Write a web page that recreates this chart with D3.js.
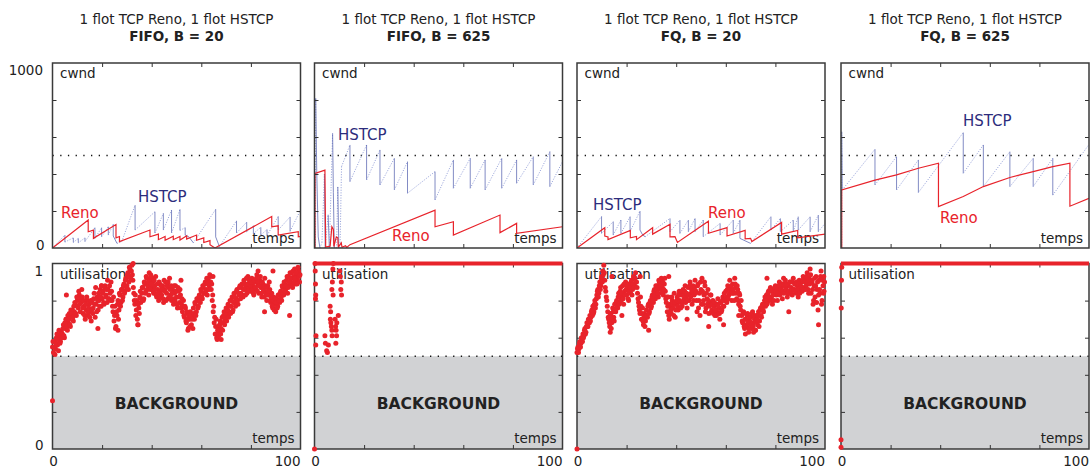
<!DOCTYPE html>
<html>
<head>
<meta charset="utf-8">
<script src="https://cdn.jsdelivr.net/npm/d3@7"></script>
<style>
  body { margin: 0; background: #fff; }
  svg { display: block; font-family: "DejaVu Sans", sans-serif; }
</style>
</head>
<body>
<svg id="chart" width="1090" height="469"></svg>
<script>
// ---------------- data ----------------
const titleLine = "1 flot TCP Reno, 1 flot HSTCP";
const scenarios = ["FIFO, B = 20", "FIFO, B = 625", "FQ, B = 20", "FQ, B = 625"];

const timeDomain = [0, 100];
const cwndDomain = [0, 1000];
const utilDomain = [0, 1];
const timeTicks = [20, 40, 60, 80];
const cwndTicks = [200, 400, 600, 800];
const utilTicks = [0.2, 0.4, 0.6, 0.8];
const cwndRef = 500;
const utilRef = 0.5;
const utilStep = 0.4; // sampling period of the utilisation series

// congestion windows, [time, cwnd] vertices
const renoFifo20 = [[0,0],[14.4,151],[14.4,88],[16.5,97],[16.5,52],[25.6,127],[25.6,55],[27,62],[27,35],[39.3,97],[39.3,61],[42.7,75],[42.7,45],[45.4,62],[45.4,42],[48.7,64],[48.7,45],[51.4,62],[51.4,43],[54.1,66],[54.1,48],[58.1,70],[58.1,42],[61,55],[61,30],[63.5,40],[63.5,18],[65.5,0],[88.4,170],[88.4,115],[91,120],[91,70],[99.1,88],[99.1,60],[100,62]];
const hstcpFifo20 = [[0,0],[5,70],[5,32],[8.4,55],[8.4,30],[10.4,52],[10.4,28],[13.1,55],[13.1,35],[17.1,110],[17.1,52],[19.8,110],[19.8,61],[22.5,115],[22.5,70],[24.5,128],[24.5,65],[26,25],[27.9,34],[33.3,232],[33.3,97],[41.3,196],[41.3,81],[44.7,187],[44.7,97],[48,205],[48,81],[51.4,209],[51.4,95],[53.5,110],[53.5,70],[55,60],[56.8,28],[65.8,209],[65.8,60],[67.3,8],[74.2,147],[74.2,81],[78.3,140],[78.3,88],[81,120],[81,78],[84,112],[84,70],[86.5,100],[86.5,68],[91,170],[91,97],[95.8,168],[95.8,90],[100,205]];

const renoFifo625 = [[0,0],[0.2,0],[0.2,403],[4.2,421],[4.5,5],[6.3,10],[7,115],[7.6,100],[7.8,8],[8.8,60],[9.4,55],[9.6,5],[10.8,28],[11.1,4],[12.5,12],[13,3],[14.3,18],[48.6,205],[48.6,115],[56,142],[56,70],[74.8,178],[74.8,83],[81.5,133],[81.5,79],[100,115]];
const hstcpFifo625 = [[0,0],[0.4,0],[0.5,809],[0.9,420],[1.5,60],[2.2,0],[3,30],[4,400],[4.3,0],[5.5,180],[6,0],[7.3,620],[7.6,300],[8,0],[8.9,0],[9.4,330],[9.8,0],[10.3,0],[10.9,440],[14.3,557],[14.3,359],[21,557],[21,368],[26.4,530],[26.4,341],[32.2,485],[32.2,314],[37.5,467],[37.5,296],[48.6,413],[48.6,260],[56,476],[56,323],[62.8,485],[62.8,323],[68.8,476],[68.8,314],[75.5,485],[75.5,323],[81.5,476],[81.5,350],[88.2,494],[88.2,341],[94.9,521],[94.9,332],[100,467]];

const renoFq20 = [[0,0],[11.2,110],[11.2,65],[12.5,60],[12.5,45],[21.5,95],[21.5,55],[24,62],[24,45],[30.5,110],[30.5,75],[37.5,128],[37.5,60],[39.5,62],[40.5,30],[53,145],[53,80],[60.5,110],[60.5,65],[67.8,95],[67.8,50],[70,52],[70.5,35],[82.5,138],[82.5,75],[89,95],[89,55],[100,75]];
const hstcpFq20 = [[0,0],[9.9,170],[9.9,79],[14.6,142],[14.6,70],[17.7,151],[17.7,79],[21.4,169],[21.4,88],[25.4,200],[25.4,97],[26.5,70],[27.5,61],[37.5,160],[37.5,88],[41.5,151],[41.5,79],[44.9,151],[44.9,88],[47.6,160],[47.6,88],[50.9,151],[50.9,61],[57.7,133],[57.7,70],[63,151],[63,79],[65.7,151],[65.7,52],[70,25],[78.2,170],[78.2,97],[82,160],[82,88],[87.2,151],[87.2,88],[89.2,169],[89.2,97],[94,169],[94,88],[97.3,178],[97.3,88],[100,133]];

const renoFq625 = [[0,0],[0.3,0],[0.3,314],[13.7,367],[22.4,395],[31.2,431],[39.3,458],[39.3,224],[49.3,278],[57.4,332],[68.1,381],[77.5,413],[85.4,440],[92.3,458],[92.3,226],[100,269]];
const hstcpFq625 = [[0,0],[0.3,0],[0.3,629],[0.5,314],[13.7,534],[13.7,341],[22.4,494],[22.4,314],[31.2,476],[31.2,300],[49.3,624],[49.3,404],[57.4,557],[57.4,332],[68.1,521],[68.1,332],[77.5,485],[77.5,332],[85.4,485],[85.4,286],[100,560]];

// link utilisation, one sample every utilStep (series A at k*step, series B half a step later)
const utilFifo20A = [
  0.55,0.52,0.58,0.54,0.6,0.56,0.53,0.61,0.58,0.63,
  0.62,0.67,0.6,0.65,0.7,0.64,0.68,0.73,0.66,0.71,
  0.75,0.69,0.74,0.78,0.72,0.8,0.76,0.83,0.74,0.79,
  0.82,0.73,0.77,0.7,0.75,0.8,0.72,0.78,0.74,0.69,
  0.79,0.76,0.84,0.71,0.78,0.82,0.75,0.8,0.86,0.77,
  0.81,0.85,0.78,0.88,0.83,0.79,0.86,0.81,0.84,0.9,
  0.8,0.74,0.69,0.77,0.66,0.72,0.8,0.75,0.83,0.79,
  0.86,0.82,0.89,0.85,0.92,0.88,0.95,0.9,0.97,0.93,
  0.99,0.91,0.84,0.78,0.72,0.8,0.67,0.76,0.82,0.79,
  0.84,0.87,0.81,0.89,0.85,0.92,0.88,0.83,0.91,0.94,
  0.87,0.9,0.84,0.88,0.93,0.82,0.86,0.8,0.89,0.85,
  0.83,0.88,0.79,0.86,0.9,0.84,0.81,0.87,0.92,0.83,
  0.8,0.86,0.78,0.84,0.88,0.82,0.76,0.85,0.79,0.83,
  0.78,0.74,0.8,0.71,0.76,0.68,0.73,0.65,0.7,0.74,
  0.67,0.72,0.76,0.7,0.78,0.74,0.8,0.77,0.83,0.79,
  0.85,0.81,0.87,0.84,0.9,0.86,0.83,0.91,0.88,0.93,
  0.86,0.8,0.74,0.68,0.62,0.7,0.59,0.66,0.63,0.69,
  0.65,0.71,0.68,0.74,0.7,0.76,0.72,0.78,0.74,0.8,
  0.77,0.82,0.75,0.84,0.79,0.81,0.86,0.78,0.83,0.88,
  0.84,0.89,0.82,0.91,0.86,0.88,0.84,0.93,0.87,0.9,
  0.85,0.92,0.88,0.83,0.9,0.86,0.94,0.89,0.84,0.91,
  0.87,0.82,0.89,0.85,0.92,0.84,0.8,0.88,0.83,0.86,
  0.79,0.84,0.76,0.82,0.78,0.74,0.81,0.77,0.83,0.79,
  0.85,0.8,0.87,0.83,0.89,0.86,0.91,0.84,0.93,0.88,
  0.9,0.95,0.87,0.93,0.97,0.89,0.94,0.91,0.96,0.9
];
const utilFifo20B = [
  0.58,0.55,0.51,0.57,0.62,0.59,0.64,0.57,0.62,0.6,
  0.65,0.61,0.68,0.7,0.66,0.72,0.7,0.67,0.75,0.73,
  0.71,0.77,0.79,0.73,0.82,0.77,0.85,0.78,0.81,0.86,
  0.76,0.8,0.72,0.78,0.82,0.74,0.76,0.71,0.8,0.75,
  0.73,0.81,0.78,0.87,0.74,0.8,0.84,0.77,0.82,0.88,
  0.84,0.79,0.87,0.82,0.86,0.91,0.81,0.88,0.8,0.85,
  0.77,0.82,0.72,0.65,0.74,0.78,0.7,0.84,0.77,0.86,
  0.8,0.88,0.84,0.91,0.87,0.94,0.86,0.98,0.92,0.96,
  0.94,0.87,0.8,0.83,0.75,0.7,0.78,0.73,0.85,0.81,
  0.87,0.8,0.9,0.84,0.93,0.86,0.9,0.95,0.86,0.89,
  0.92,0.85,0.91,0.86,0.83,0.89,0.84,0.9,0.82,0.88,
  0.86,0.81,0.91,0.85,0.8,0.88,0.9,0.82,0.86,0.88,
  0.84,0.81,0.88,0.8,0.85,0.78,0.87,0.82,0.86,0.76,
  0.81,0.77,0.72,0.77,0.69,0.74,0.7,0.72,0.66,0.71,
  0.7,0.65,0.73,0.79,0.72,0.81,0.76,0.82,0.8,0.86,
  0.82,0.88,0.84,0.89,0.85,0.92,0.89,0.86,0.94,0.9,
  0.89,0.83,0.77,0.71,0.66,0.6,0.64,0.61,0.67,0.62,
  0.68,0.64,0.72,0.67,0.73,0.69,0.75,0.71,0.77,0.73,
  0.8,0.74,0.79,0.82,0.77,0.85,0.8,0.84,0.87,0.81,
  0.87,0.83,0.86,0.89,0.83,0.92,0.89,0.85,0.91,0.88,
  0.9,0.86,0.84,0.91,0.87,0.92,0.85,0.9,0.88,0.93,
  0.84,0.9,0.86,0.82,0.88,0.87,0.83,0.85,0.9,0.8,
  0.82,0.77,0.8,0.75,0.81,0.79,0.76,0.83,0.8,0.84,
  0.82,0.88,0.84,0.9,0.85,0.88,0.93,0.87,0.9,0.95,
  0.92,0.88,0.96,0.9,0.92,0.95,0.89,0.98,0.93,0.94
];
const utilFq20A = [
  0.52,0.55,0.54,0.58,0.57,0.6,0.62,0.61,0.65,0.63,
  0.68,0.66,0.7,0.72,0.71,0.75,0.77,0.74,0.8,0.78,
  0.83,0.86,0.84,0.9,0.88,0.93,0.96,0.99,0.91,0.85,
  0.8,0.74,0.7,0.66,0.73,0.68,0.76,0.71,0.78,0.74,
  0.8,0.76,0.84,0.79,0.87,0.82,0.88,0.78,0.85,0.9,
  0.83,0.87,0.8,0.89,0.84,0.91,0.86,0.93,0.88,0.95,
  0.9,0.84,0.79,0.75,0.82,0.7,0.76,0.67,0.73,0.69,
  0.75,0.71,0.78,0.74,0.8,0.77,0.83,0.79,0.86,0.81,
  0.84,0.88,0.82,0.9,0.86,0.92,0.87,0.83,0.89,0.85,
  0.79,0.74,0.82,0.7,0.77,0.73,0.8,0.76,0.84,0.71,
  0.78,0.82,0.75,0.85,0.79,0.83,0.77,0.86,0.81,0.88,
  0.82,0.76,0.87,0.8,0.9,0.84,0.78,0.88,0.83,0.91,
  0.85,0.74,0.89,0.8,0.72,0.86,0.92,0.78,0.83,0.88,
  0.76,0.81,0.86,0.73,0.79,0.83,0.75,0.8,0.77,0.72,
  0.78,0.74,0.81,0.76,0.7,0.79,0.75,0.82,0.77,0.8,
  0.85,0.79,0.88,0.83,0.91,0.86,0.8,0.89,0.84,0.92,
  0.87,0.81,0.86,0.78,0.83,0.75,0.72,0.68,0.74,0.65,
  0.7,0.66,0.73,0.63,0.69,0.71,0.65,0.74,0.68,0.7,
  0.64,0.72,0.67,0.74,0.69,0.76,0.71,0.78,0.74,0.8,
  0.77,0.83,0.79,0.85,0.81,0.87,0.82,0.78,0.86,0.84,
  0.88,0.83,0.8,0.86,0.9,0.84,0.87,0.81,0.89,0.85,
  0.91,0.86,0.82,0.88,0.84,0.9,0.87,0.83,0.92,0.86,
  0.89,0.84,0.88,0.82,0.91,0.86,0.9,0.85,0.93,0.87,
  0.91,0.88,0.95,0.86,0.92,0.97,0.84,0.9,0.78,0.88,
  0.82,0.93,0.86,0.75,0.91,0.84,0.96,0.8,0.88,0.85
];
const utilFq20B = [
  0.54,0.52,0.57,0.55,0.6,0.58,0.6,0.64,0.62,0.66,
  0.66,0.7,0.68,0.69,0.74,0.72,0.73,0.78,0.76,0.81,
  0.85,0.82,0.88,0.86,0.92,0.9,0.94,0.95,0.87,0.82,
  0.77,0.71,0.68,0.72,0.65,0.7,0.74,0.69,0.75,0.79,
  0.77,0.82,0.78,0.85,0.8,0.84,0.81,0.89,0.83,0.86,
  0.88,0.81,0.85,0.87,0.9,0.83,0.89,0.87,0.92,0.9,
  0.87,0.81,0.77,0.73,0.77,0.73,0.69,0.71,0.66,0.72,
  0.72,0.77,0.73,0.79,0.76,0.82,0.8,0.85,0.83,0.88,
  0.86,0.84,0.91,0.87,0.88,0.84,0.9,0.86,0.92,0.81,
  0.82,0.77,0.72,0.78,0.75,0.82,0.78,0.72,0.79,0.75,
  0.8,0.77,0.83,0.8,0.76,0.85,0.79,0.83,0.85,0.79,
  0.84,0.8,0.83,0.88,0.82,0.86,0.85,0.8,0.87,0.84,
  0.8,0.88,0.76,0.84,0.9,0.78,0.85,0.8,0.9,0.74,
  0.84,0.78,0.8,0.77,0.83,0.74,0.78,0.73,0.79,0.75,
  0.72,0.78,0.77,0.73,0.79,0.74,0.8,0.77,0.84,0.81,
  0.82,0.86,0.81,0.86,0.84,0.88,0.84,0.86,0.8,0.89,
  0.84,0.88,0.8,0.84,0.77,0.8,0.69,0.73,0.66,0.7,
  0.67,0.72,0.68,0.65,0.71,0.67,0.73,0.66,0.72,0.64,
  0.69,0.7,0.72,0.66,0.75,0.72,0.77,0.75,0.78,0.82,
  0.8,0.78,0.84,0.82,0.86,0.8,0.85,0.83,0.8,0.87,
  0.85,0.87,0.84,0.88,0.83,0.86,0.89,0.85,0.84,0.88,
  0.86,0.89,0.84,0.85,0.9,0.84,0.85,0.9,0.86,0.89,
  0.85,0.9,0.86,0.89,0.84,0.88,0.87,0.91,0.86,0.9,
  0.86,0.93,0.9,0.84,0.89,0.94,0.91,0.86,0.8,0.92,
  0.88,0.79,0.9,0.83,0.86,0.93,0.78,0.91,0.84,0.9
];
// isolated samples, [time, utilisation]
const utilFifo20Extra = [[0,0.26],[5.6,0.83],[18.3,0.65],[19.7,0.88],[26.4,0.64],[32.5,1.0],[34.5,0.67],[39.7,0.93],[51.8,0.91],[54.6,0.64],[64.7,0.93],[68,0.59],[82.9,0.96],[85.5,0.74],[88.9,0.96],[95.6,0.72]];
const utilFifo625Points = [[0,0],[0.2,1.0],[0.3,0.96],[0.4,0.89],[0.5,0.83],[0.4,0.81],[0.6,0.61],[0.5,0.56],[4.2,0.61],[4.4,0.57],[4.9,0.53],[5.2,0.52],[5.6,0.56],[6.3,0.77],[6.5,0.74],[6.4,0.7],[6.6,0.68],[6.8,0.66],[7.0,0.64],[7.1,0.61],[7.0,0.86],[7.2,0.9],[7.4,0.97],[7.6,1.0],[7.5,0.83],[8.3,0.7],[8.5,0.66],[8.7,0.64],[8.9,0.61],[8.6,0.57],[9.0,0.68],[9.6,0.72],[10.2,0.96],[10.4,0.93],[10.6,0.86],[10.9,0.83],[10.8,0.9]];
const utilFq20Extra = [[0,0],[13.4,0.63],[14.1,0.93],[18.1,0.72],[25.5,0.93],[28.9,0.64],[37,0.93],[44.4,0.7],[53.1,0.66],[59.1,0.67],[65.2,0.72],[67.9,0.62],[71.2,0.63],[76.6,0.92],[83.3,0.92],[85.4,0.74],[97.4,0.67],[99.5,0.93]];
const utilFq625Points = [[0.3,0.98],[0.2,0.91],[0.1,0.76],[0,0.05],[0,0.01]];
// saturated link, [time, utilisation]
const utilFifo625Full = [[0,1],[100,1]];
const utilFq625Full = [[0,1],[100,1]];

// ---------------- layout ----------------
const svg = d3.select("#chart");
const panelW = 248;
const lefts = [52.5, 314.5, 577, 841];
const topY = [63, 248];
const botY = [263.5, 449];
const RED = "#e8232b";
const NAVY = "#2d2c7c";

const panels = [
  { reno: renoFifo20,  hstcp: hstcpFifo20,  util: [utilFifo20A, utilFifo20B], points: utilFifo20Extra, full: null,
    renoLab: [8.5, 218],  hstcpLab: [85.5, 202] },
  { reno: renoFifo625, hstcp: hstcpFifo625, util: [], points: utilFifo625Points, full: utilFifo625Full,
    renoLab: [77.5, 241], hstcpLab: [23.5, 140] },
  { reno: renoFq20,    hstcp: hstcpFq20,    util: [utilFq20A, utilFq20B], points: utilFq20Extra, full: null,
    renoLab: [131, 218],  hstcpLab: [16, 210] },
  { reno: renoFq625,   hstcp: hstcpFq625,   util: [], points: utilFq625Points, full: utilFq625Full,
    renoLab: [99, 223],   hstcpLab: [122, 126] }
];

const defs = svg.append("defs");

function innerTicks(g, x, y, xt, yt) {
  const [x0, x1] = x.range();
  const [y0, y1] = y.range();
  const tk = 4;
  const style = s => s.call(a => a.select(".domain").remove())
                      .selectAll("line").attr("stroke", "#333").attr("stroke-width", 1);
  g.append("g").attr("transform", `translate(0,${y0})`)
    .call(d3.axisBottom(x).tickValues(xt).tickSize(-tk).tickFormat("")).call(style);
  g.append("g").attr("transform", `translate(0,${y1})`)
    .call(d3.axisTop(x).tickValues(xt).tickSize(-tk).tickFormat("")).call(style);
  g.append("g").attr("transform", `translate(${x0},0)`)
    .call(d3.axisLeft(y).tickValues(yt).tickSize(-tk).tickFormat("")).call(style);
  g.append("g").attr("transform", `translate(${x1},0)`)
    .call(d3.axisRight(y).tickValues(yt).tickSize(-tk).tickFormat("")).call(style);
}

function txt(g, x, y, s, opt = {}) {
  return g.append("text").attr("x", x).attr("y", y).text(s)
    .attr("font-size", opt.size || 13.5)
    .attr("font-weight", opt.weight || "normal")
    .attr("text-anchor", opt.anchor || "start")
    .attr("fill", opt.fill || "#222");
}

panels.forEach((p, i) => {
  const L = lefts[i], R = L + panelW;
  const g = svg.append("g");
  const x = d3.scaleLinear().domain(timeDomain).range([L, R]);
  const yc = d3.scaleLinear().domain(cwndDomain).range([topY[1], topY[0]]);
  const yu = d3.scaleLinear().domain(utilDomain).range([botY[1], botY[0]]);
  const cx = (L + R) / 2;

  // titles
  txt(g, cx, 24, titleLine, { anchor: "middle" });
  txt(g, cx, 41, scenarios[i], { anchor: "middle", weight: "bold" });

  // ---- congestion window panel ----
  const clipId = "clip" + i;
  defs.append("clipPath").attr("id", clipId).append("rect")
    .attr("x", L).attr("y", topY[0]).attr("width", panelW).attr("height", topY[1] - topY[0]);

  g.append("rect").attr("x", L).attr("y", topY[0]).attr("width", panelW)
    .attr("height", topY[1] - topY[0]).attr("fill", "#fff");
  g.append("line").attr("x1", L).attr("x2", R).attr("y1", yc(cwndRef)).attr("y2", yc(cwndRef))
    .attr("stroke", "#111").attr("stroke-width", 1.3).attr("stroke-dasharray", "1.3,6.4");
  txt(g, L + 7.5, 78, "cwnd");
  txt(g, R - 6, 243, "temps", { anchor: "end" });

  const line = d3.line().x(d => x(d[0])).y(d => yc(d[1]));
  const lines = g.append("g").attr("clip-path", `url(#${clipId})`);
  // HSTCP: growth phases faint and dotted, window reductions solid
  d3.pairs(p.hstcp).forEach(([a, b]) => {
    const drop = b[1] < a[1];
    lines.append("path").attr("d", line([a, b])).attr("fill", "none")
      .attr("stroke", drop ? "#4553a8" : "#8795d4")
      .attr("stroke-width", drop ? 0.8 : 1)
      .attr("stroke-dasharray", drop ? null : "1.1,1.5")
      .attr("opacity", 0.85);
  });
  lines.append("path").attr("d", line(p.reno)).attr("fill", "none")
    .attr("stroke", RED).attr("stroke-width", 1.2);

  txt(g, L + p.renoLab[0], p.renoLab[1], "Reno", { size: 15, fill: RED });
  txt(g, L + p.hstcpLab[0], p.hstcpLab[1], "HSTCP", { size: 15, fill: NAVY });

  innerTicks(g, x, yc, timeTicks, cwndTicks);
  g.append("rect").attr("x", L).attr("y", topY[0]).attr("width", panelW)
    .attr("height", topY[1] - topY[0]).attr("fill", "none").attr("stroke", "#3a3a3a").attr("stroke-width", 1.5);

  // ---- utilisation panel ----
  g.append("rect").attr("x", L).attr("y", botY[0]).attr("width", panelW)
    .attr("height", botY[1] - botY[0]).attr("fill", "#fff");
  g.append("rect").attr("x", L).attr("y", yu(utilRef)).attr("width", panelW)
    .attr("height", yu(0) - yu(utilRef)).attr("fill", "#d1d2d4");
  g.append("line").attr("x1", L).attr("x2", R).attr("y1", yu(utilRef)).attr("y2", yu(utilRef))
    .attr("stroke", "#111").attr("stroke-width", 1.3).attr("stroke-dasharray", "1.3,6.4");
  txt(g, cx, 409, "BACKGROUND", { anchor: "middle", weight: "bold", size: 15.5 });
  txt(g, L + 7.5, 279, "utilisation");
  txt(g, R - 6, 443, "temps", { anchor: "end" });

  innerTicks(g, x, yu, timeTicks, utilTicks);
  g.append("rect").attr("x", L).attr("y", botY[0]).attr("width", panelW)
    .attr("height", botY[1] - botY[0]).attr("fill", "none").attr("stroke", "#3a3a3a").attr("stroke-width", 1.5);

  const dots = g.append("g").attr("fill", RED);
  p.util.forEach((series, s) => {
    dots.append("g").selectAll("circle").data(series).join("circle")
      .attr("cx", (d, k) => x((k + s / 2) * utilStep)).attr("cy", d => yu(d)).attr("r", 2.5);
  });
  dots.append("g").selectAll("circle").data(p.points).join("circle")
    .attr("cx", d => x(d[0])).attr("cy", d => yu(d[1])).attr("r", 2.5);
  if (p.full) {
    g.append("path").attr("d", d3.line().x(d => x(d[0])).y(d => yu(d[1]))(p.full))
      .attr("stroke", RED).attr("stroke-width", 4).attr("fill", "none");
  }

  // time axis labels
  txt(g, x(0) + 1, 466, "0", { anchor: "middle" });
  txt(g, x(100), 466, "100", { anchor: "end" });

  // value labels on the first column only
  if (i === 0) {
    txt(g, L - 9.5, yc(1000) + 12, "1000", { anchor: "end" });
    txt(g, L - 8, yc(0) + 2, "0", { anchor: "end" });
    txt(g, L - 9.5, yu(1) + 12, "1", { anchor: "end" });
    txt(g, L - 9, yu(0) + 1, "0", { anchor: "end" });
  }
});
</script>
</body>
</html>
